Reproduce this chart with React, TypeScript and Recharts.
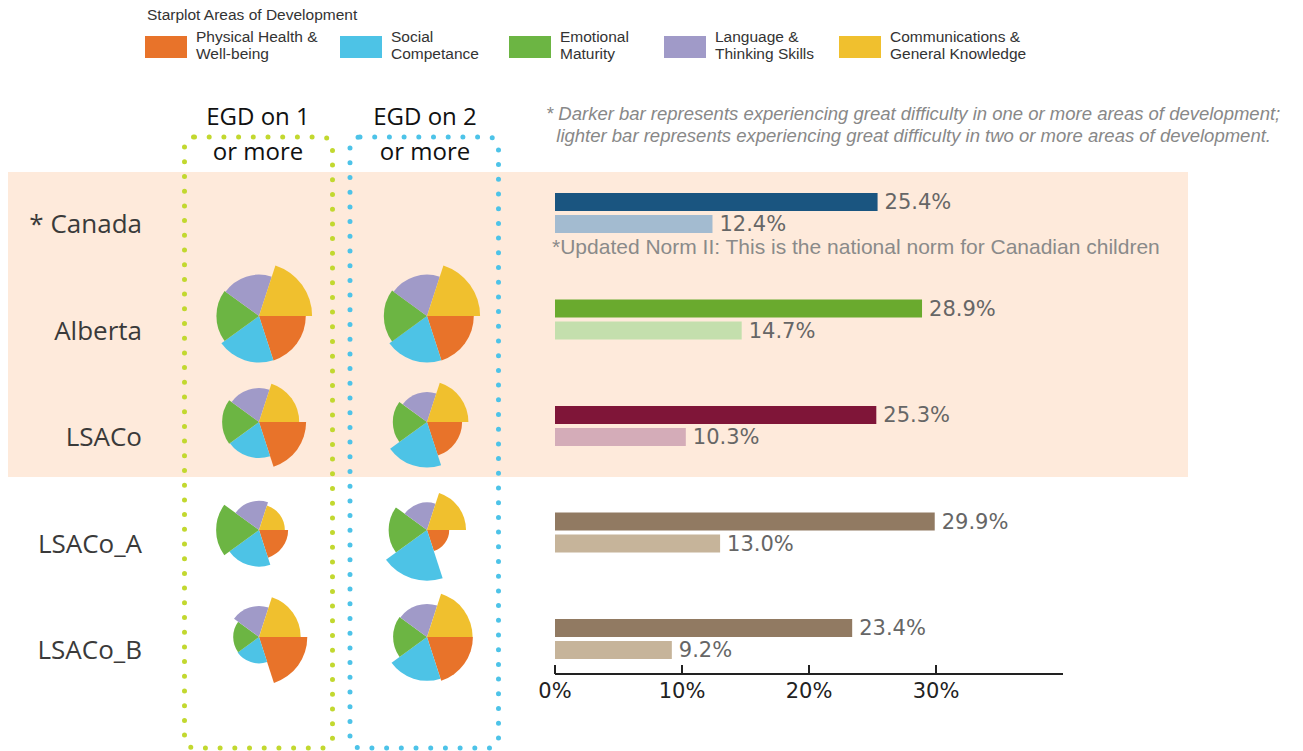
import React from "react";
import {
  Bar,
  BarChart,
  Cell,
  LabelList,
  PolarAngleAxis,
  PolarRadiusAxis,
  RadialBar,
  RadialBarChart,
  XAxis,
  YAxis,
} from "recharts";

// bar chart data
const regions = ["* Canada", "Alberta", "LSACo", "LSACo_A", "LSACo_B"];
const egdOneOrMore = [25.4, 28.9, 25.3, 29.9, 23.4];
const egdTwoOrMore = [12.4, 14.7, 10.3, 13.0, 9.2];
const darkColors = ["#1a5580", "#6aaa2e", "#7f1538", "#917a62", "#917a62"];
const lightColors = ["#a3bbd0", "#c4dfad", "#d4acb8", "#c6b49a", "#c6b49a"];
const xTicks = [0, 10, 20, 30];

// starplot domains (clockwise from 3 o'clock)
const domainNames = [
  ["Physical Health &", "Well-being"],
  ["Social", "Competance"],
  ["Emotional", "Maturity"],
  ["Language &", "Thinking Skills"],
  ["Communications &", "General Knowledge"],
];
const domainColors = ["#e8732a", "#4dc3e6", "#6cb543", "#a09ac8", "#f0c02e"];
const legendX = [145, 340, 509, 664, 839];

// starplot values, one per domain (EGD on 1 or more / EGD on 2 or more)
const albertaOne = [15.6, 15.5, 14.2, 13.8, 17.7];
const albertaTwo = [15.6, 15.5, 14.4, 13.8, 17.7];
const lsacoOne = [15.7, 12.0, 12.3, 11.3, 13.4];
const lsacoTwo = [11.7, 15.2, 11.4, 10.0, 13.8];
const lsacoAOne = [9.7, 12.2, 14.3, 9.7, 8.6];
const lsacoATwo = [7.4, 16.9, 12.8, 9.2, 13.0];
const lsacoBOne = [16.1, 8.8, 8.6, 10.3, 13.9];
const lsacoBTwo = [15.3, 14.6, 11.3, 11.0, 15.2];

const starRows = [
  { one: albertaOne, two: albertaTwo, cy: 316 },
  { one: lsacoOne, two: lsacoTwo, cy: 422 },
  { one: lsacoAOne, two: lsacoATwo, cy: 530 },
  { one: lsacoBOne, two: lsacoBTwo, cy: 637 },
];
const starColX = { one: 259, two: 427 };

const barData = regions.map((r, i) => ({ region: r, one: egdOneOrMore[i], two: egdTwoOrMore[i] }));

const sans = "'Open Sans', sans-serif";
const arial = "'Liberation Sans', Arial, sans-serif";
const dejavu = "'DejaVu Sans', sans-serif";

function RegionTick(props: any) {
  const { y, payload } = props;
  return (
    <text x={142} y={y + 10} textAnchor="end" dominantBaseline="central" fill="#3a3a3a" fontSize={26} fontFamily={sans}>
      {payload.value}
    </text>
  );
}

function Starplot({ values, cx, cy }: { values: number[]; cx: number; cy: number }) {
  const data = values.map((v, i) => ({ domain: domainNames[i].join(" "), value: v }));
  return (
    <div style={{ position: "absolute", left: cx - 65, top: cy - 65 }}>
      <RadialBarChart
        width={130}
        height={130}
        data={data}
        layout="centric"
        cx={65}
        cy={65}
        innerRadius={0}
        outerRadius={60}
        startAngle={-72}
        endAngle={-432}
        barCategoryGap={0}
        barGap={0}
        margin={{ top: 0, right: 0, bottom: 0, left: 0 }}
      >
        <PolarAngleAxis type="category" dataKey="domain" tick={false} axisLine={false} tickLine={false} />
        <PolarRadiusAxis type="number" domain={[0, 20]} tick={false} axisLine={false} />
        <RadialBar dataKey="value" isAnimationActive={false}>
          {data.map((d, i) => (
            <Cell key={d.domain} fill={domainColors[i]} />
          ))}
        </RadialBar>
      </RadialBarChart>
    </div>
  );
}

const fmt = (v: any) => `${Number(v).toFixed(1)}%`;

export default function App() {
  return (
    <div style={{ position: "absolute", left: 0, top: 0, width: 1303, height: 751, background: "#fff", overflow: "hidden" }}>
      {/* highlighted rows */}
      <div style={{ position: "absolute", left: 8, top: 172, width: 1180, height: 305, background: "#feeadb" }} />

      {/* legend */}
      <div style={{ position: "absolute", left: 147, top: 6, fontFamily: arial, fontSize: 15.5, color: "#333" }}>
        Starplot Areas of Development
      </div>
      {domainNames.map((lines, i) => (
        <div key={lines[0]}>
          <div style={{ position: "absolute", left: legendX[i], top: 36, width: 42, height: 22, background: domainColors[i] }} />
          <div style={{ position: "absolute", left: legendX[i] + 51, top: 28, fontFamily: arial, fontSize: 15.5, lineHeight: "17px", color: "#333", whiteSpace: "nowrap" }}>
            {lines[0]}
            <br />
            {lines[1]}
          </div>
        </div>
      ))}

      {/* dotted columns */}
      <svg width={1303} height={751} style={{ position: "absolute", left: 0, top: 0 }}>
        <rect x={184.5} y={137} width={148} height={611} rx={10} fill="none" stroke="#c2d82f" strokeWidth={5} strokeDasharray="0 14.7" strokeLinecap="round" />
        <rect x={350} y={137} width={148.5} height={611} rx={10} fill="none" stroke="#4dc3e8" strokeWidth={5} strokeDasharray="0 14.7" strokeLinecap="round" />
      </svg>
      {[
        { x: 258, n: "1" },
        { x: 425, n: "2" },
      ].map((h) => (
        <div key={h.n} style={{ position: "absolute", left: h.x - 80, top: 98, width: 160, textAlign: "center", fontFamily: sans, fontSize: 24, lineHeight: "35px", color: "#111" }}>
          EGD on {h.n}
          <br />
          or more
        </div>
      ))}

      {/* bars */}
      <div style={{ position: "absolute", left: 0, top: 0 }}>
        <BarChart
          width={1303}
          height={751}
          data={barData}
          layout="vertical"
          margin={{ top: 160, right: 240, bottom: 17, left: 0 }}
          barSize={18}
          barGap={4}
          barCategoryGap={0}
        >
          <XAxis
            type="number"
            domain={[0, 40]}
            ticks={xTicks}
            tickFormatter={(v) => `${v}%`}
            axisLine={{ stroke: "#222", strokeWidth: 2 }}
            tickLine={{ stroke: "#222", strokeWidth: 2 }}
            tickSize={-9}
            tickMargin={18}
            tick={{ fill: "#222", fontSize: 21, fontFamily: dejavu }}
            height={60}
            allowDataOverflow
          />
          <YAxis
            type="category"
            dataKey="region"
            width={555}
            padding={{ top: 0, bottom: -18.5 }}
            axisLine={false}
            tickLine={false}
            tick={<RegionTick />}
          />
          <Bar dataKey="one" isAnimationActive={false}>
            {barData.map((d, i) => (
              <Cell key={d.region} fill={darkColors[i]} />
            ))}
            <LabelList dataKey="one" position="right" offset={7} formatter={fmt} fill="#666" fontSize={21} fontFamily={dejavu} />
          </Bar>
          <Bar dataKey="two" isAnimationActive={false}>
            {barData.map((d, i) => (
              <Cell key={d.region} fill={lightColors[i]} />
            ))}
            <LabelList dataKey="two" position="right" offset={7} formatter={fmt} fill="#666" fontSize={21} fontFamily={dejavu} />
          </Bar>
        </BarChart>
      </div>

      {/* starplots */}
      {starRows.map((row) => (
        <React.Fragment key={row.cy}>
          <Starplot values={row.one} cx={starColX.one} cy={row.cy} />
          <Starplot values={row.two} cx={starColX.two} cy={row.cy} />
        </React.Fragment>
      ))}

      {/* notes */}
      <div style={{ position: "absolute", left: 546, top: 103, fontFamily: arial, fontStyle: "italic", fontSize: 18.5, lineHeight: "22px", color: "#888", whiteSpace: "nowrap" }}>
        * Darker bar represents experiencing great difficulty in one or more areas of development;
        <br />
        &nbsp;&nbsp;lighter bar represents experiencing great difficulty in two or more areas of development.
      </div>
      <div style={{ position: "absolute", left: 552, top: 238, fontFamily: arial, fontSize: 21, lineHeight: "17px", color: "#8a8a8a", whiteSpace: "nowrap" }}>
        *Updated Norm II: This is the national norm for Canadian children
      </div>
    </div>
  );
}
